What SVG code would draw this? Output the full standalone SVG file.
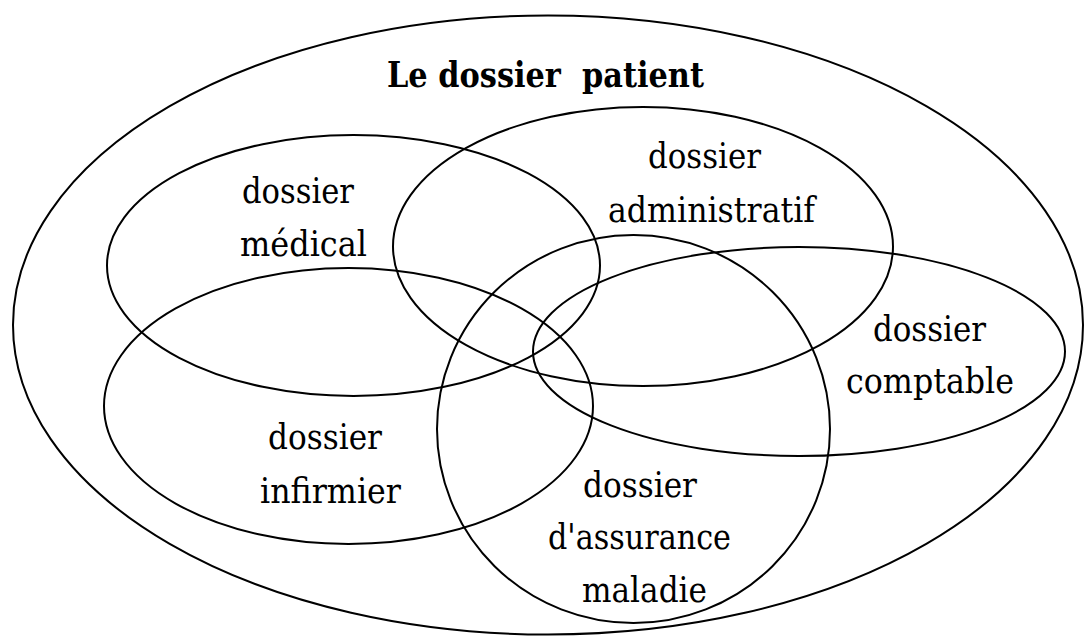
<svg xmlns="http://www.w3.org/2000/svg" width="1085" height="637" viewBox="0 0 1085 637">
<style>
.set{fill:none;stroke:#000;stroke-width:2}
.lbl{font-family:'DejaVu Serif',serif;font-size:36px;fill:#000;text-anchor:middle}
.title{font-family:'DejaVu Serif',serif;font-size:36px;font-weight:bold;fill:#000;text-anchor:middle}
</style>
<rect width="1085" height="637" fill="#fff"/>
<g id="patient">
<ellipse class="set" cx="548" cy="325" rx="535" ry="309.5"/>
<text class="title" x="545.5" y="87" textLength="317" lengthAdjust="spacingAndGlyphs" xml:space="preserve">Le dossier  patient</text>
</g>
<g id="medical">
<ellipse class="set" cx="353.5" cy="265.5" rx="246.5" ry="130.5"/>
<text class="lbl" x="298" y="203" textLength="112" lengthAdjust="spacingAndGlyphs">dossier</text>
<text class="lbl" x="303.5" y="256" textLength="127" lengthAdjust="spacingAndGlyphs">médical</text>
</g>
<g id="administratif">
<ellipse class="set" cx="643" cy="246.5" rx="250" ry="139.5"/>
<text class="lbl" x="704.5" y="168" textLength="113" lengthAdjust="spacingAndGlyphs">dossier</text>
<text class="lbl" x="711.5" y="222" textLength="207" lengthAdjust="spacingAndGlyphs">administratif</text>
</g>
<g id="infirmier">
<ellipse class="set" cx="348.5" cy="406" rx="244.5" ry="138"/>
<text class="lbl" x="325" y="449" textLength="114" lengthAdjust="spacingAndGlyphs">dossier</text>
<text class="lbl" x="330.5" y="503" textLength="141" lengthAdjust="spacingAndGlyphs">infirmier</text>
</g>
<g id="comptable">
<ellipse class="set" cx="799" cy="351.5" rx="266" ry="104.5"/>
<text class="lbl" x="929.5" y="341" textLength="113" lengthAdjust="spacingAndGlyphs">dossier</text>
<text class="lbl" x="930" y="393" textLength="168" lengthAdjust="spacingAndGlyphs">comptable</text>
</g>
<g id="assurance">
<ellipse class="set" cx="633.5" cy="429" rx="196.5" ry="194"/>
<text class="lbl" x="640" y="497" textLength="114" lengthAdjust="spacingAndGlyphs">dossier</text>
<text class="lbl" x="639.5" y="549" textLength="183" lengthAdjust="spacingAndGlyphs">d'assurance</text>
<text class="lbl" x="644.5" y="602" textLength="125" lengthAdjust="spacingAndGlyphs">maladie</text>
</g>
<g id="connectors"/>
</svg>
